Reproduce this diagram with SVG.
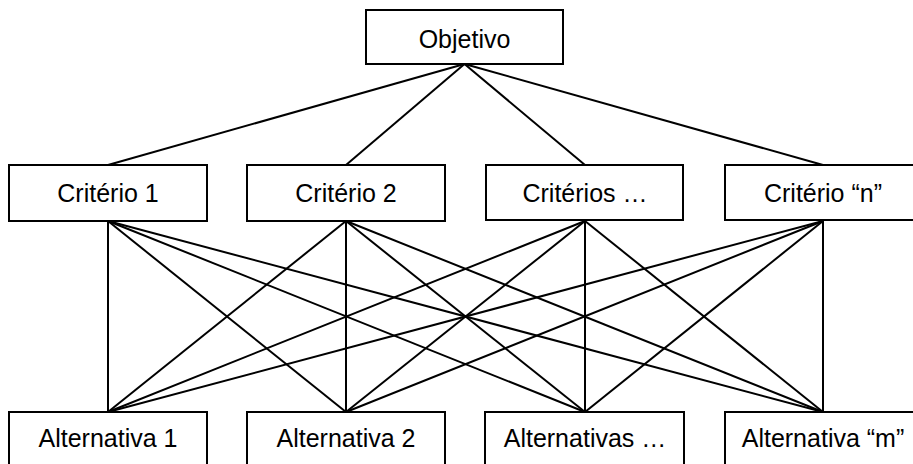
<svg xmlns="http://www.w3.org/2000/svg" width="913" height="464" viewBox="0 0 913 464">
<style>
.box{fill:#fff;stroke:#000;stroke-width:2}
.lbl{font-family:"Liberation Sans",Arial,sans-serif;font-size:25px;fill:#000;text-anchor:middle}
.con line{stroke:#000;stroke-width:2}
</style>
<rect width="913" height="464" fill="#fff"/>
<g class="con" id="connectors">
<line x1="464.5" y1="64" x2="108" y2="165"/>
<line x1="464.5" y1="64" x2="346" y2="165"/>
<line x1="464.5" y1="64" x2="585" y2="165"/>
<line x1="464.5" y1="64" x2="823" y2="165"/>
<line x1="108" y1="221" x2="108" y2="412"/>
<line x1="108" y1="221" x2="346" y2="412"/>
<line x1="108" y1="221" x2="585" y2="412"/>
<line x1="108" y1="221" x2="823" y2="412"/>
<line x1="346" y1="221" x2="108" y2="412"/>
<line x1="346" y1="221" x2="346" y2="412"/>
<line x1="346" y1="221" x2="585" y2="412"/>
<line x1="346" y1="221" x2="823" y2="412"/>
<line x1="585" y1="221" x2="108" y2="412"/>
<line x1="585" y1="221" x2="346" y2="412"/>
<line x1="585" y1="221" x2="585" y2="412"/>
<line x1="585" y1="221" x2="823" y2="412"/>
<line x1="823" y1="221" x2="108" y2="412"/>
<line x1="823" y1="221" x2="346" y2="412"/>
<line x1="823" y1="221" x2="585" y2="412"/>
<line x1="823" y1="221" x2="823" y2="412"/>
</g>
<g id="objetivo"><rect class="box" x="366" y="10" width="197" height="54"/><text class="lbl" x="464.5" y="48">Objetivo</text></g>
<g id="criterio1"><rect class="box" x="9" y="165" width="198" height="56"/><text class="lbl" x="108" y="202">Critério 1</text></g>
<g id="criterio2"><rect class="box" x="247" y="165" width="198" height="56"/><text class="lbl" x="346" y="202">Critério 2</text></g>
<g id="criterios"><rect class="box" x="486" y="165" width="197" height="55"/><text class="lbl" x="585" y="202">Critérios …</text></g>
<g id="criterion"><rect class="box" x="725" y="165" width="198" height="55"/><text class="lbl" x="823" y="202">Critério “n”</text></g>
<g id="alternativa1"><rect class="box" x="9" y="412" width="198" height="60"/><text class="lbl" x="108" y="447">Alternativa 1</text></g>
<g id="alternativa2"><rect class="box" x="247" y="412" width="198" height="60"/><text class="lbl" x="346" y="447">Alternativa 2</text></g>
<g id="alternativas"><rect class="box" x="485" y="412" width="199" height="60"/><text class="lbl" x="585" y="447">Alternativas …</text></g>
<g id="alternativam"><rect class="box" x="725" y="412" width="198" height="60"/><text class="lbl" x="823" y="447">Alternativa “m”</text></g>
</svg>
